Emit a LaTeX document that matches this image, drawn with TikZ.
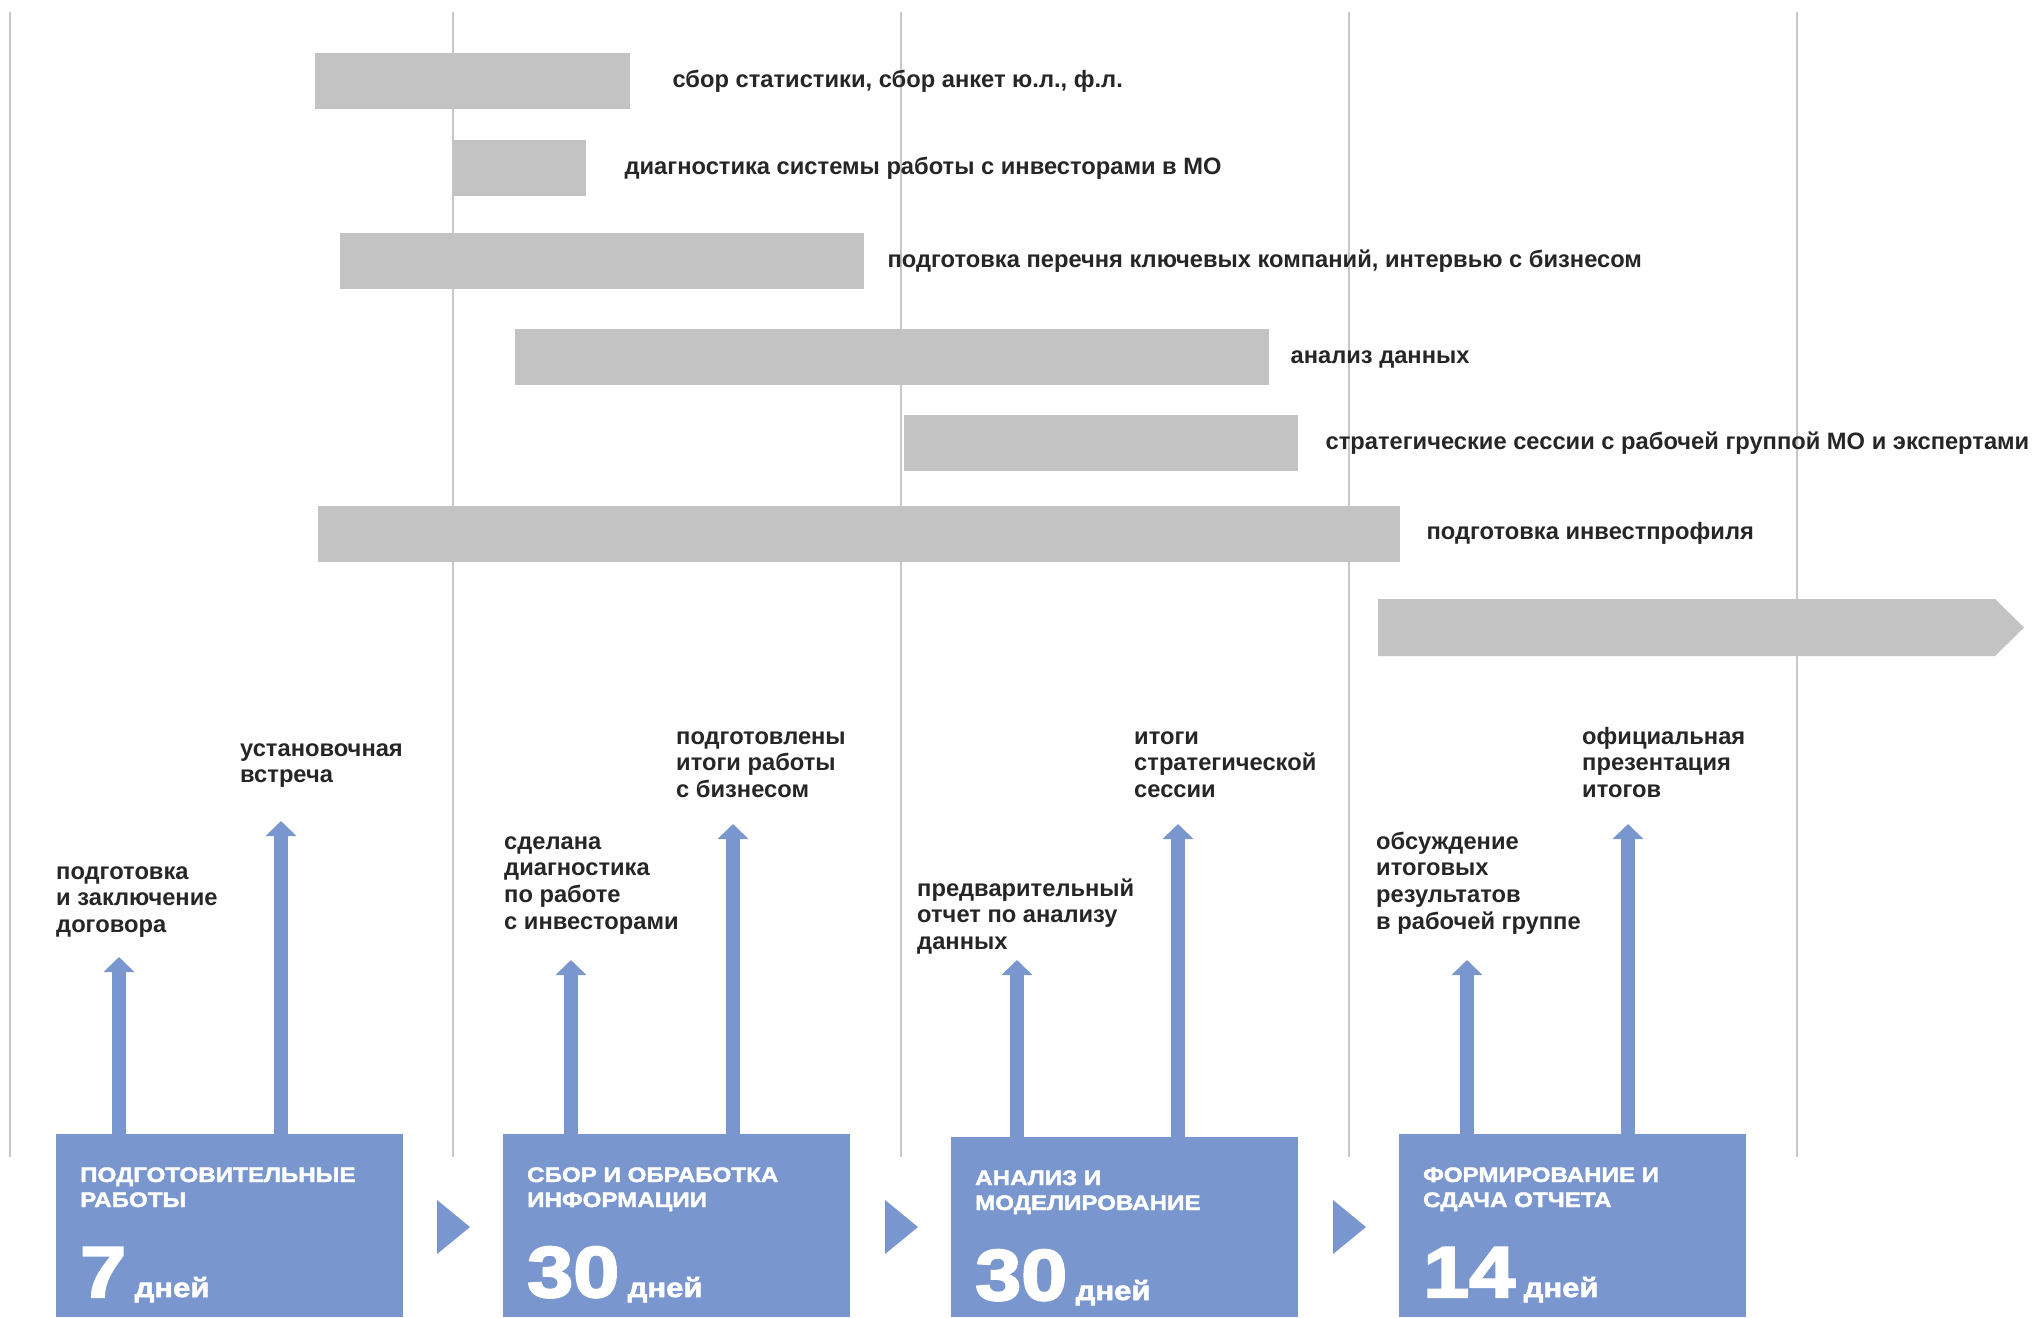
\documentclass[tikz,border=0pt]{standalone}
\usepackage{fontspec}
\setmainfont{Liberation Sans}
\newfontfamily\heavyfont{Liberation Sans Bold}[FakeBold=2,FakeStretch=1.15]
\usetikzlibrary{arrows.meta,calc}
\definecolor{barGray}{HTML}{C2C3C2}
\definecolor{gridGray}{HTML}{C8C8C8}
\definecolor{msBlue}{HTML}{7A96CF}
\definecolor{textDark}{HTML}{262626}
\begin{document}
\begin{tikzpicture}[x=1pt,y=-1pt,
	grid line/.style={draw=gridGray,line width=2pt},
	task bar/.style={fill=barGray,inner sep=0pt,minimum height=56pt,anchor=west},
	task text/.style={anchor=base west,inner sep=0pt,text=textDark,font=\bfseries\fontsize{23.7}{26.7}\selectfont},
	ms text/.style={task text,align=left},
	ms arrow/.style={draw=msBlue,line width=14pt,-{Triangle[width=30pt,length=15pt]}},
	phase box/.style={fill=msBlue,inner sep=0pt,anchor=north west,minimum width=347pt},
	phase title/.style={anchor=base west,inner sep=0pt,align=left,text=white,font=\heavyfont\fontsize{21}{25}\selectfont},
	phase days/.style={anchor=base west,inner sep=0pt,text=white,font=\heavyfont\addfontfeature{FakeBold=3}\fontsize{72}{72}\selectfont},
	phase unit/.style={anchor=base west,inner sep=0pt,text=white,font=\heavyfont\fontsize{27}{27}\selectfont}]
	\useasboundingbox (0,0) rectangle (2033,1317);
	
	% vertical grid
	\foreach \gx in {10,453,901,1349,1797}
		\draw[grid line] (\gx,12) -- (\gx,1157);
	
	% task bars
	\node[task bar,minimum width=315pt] (t1) at (315,81) {};
	\node[task bar,minimum width=133pt] (t2) at (453,168) {};
	\node[task bar,minimum width=524pt] (t3) at (340,261) {};
	\node[task bar,minimum width=754pt] (t4) at (515,357) {};
	\node[task bar,minimum width=394pt] (t5) at (904,443) {};
	\node[task bar,minimum width=1082pt] (t6) at (318,533.5) {};
	\fill[barGray] (1378,599) -- (1995,599) -- (2024,627.5) -- (1995,656) -- (1378,656) -- cycle;
	
	\node[task text] at ($(t1.east)+(42,6)$) {сбор статистики, сбор анкет ю.л., ф.л.};
	\node[task text] at ($(t2.east)+(38,6)$) {диагностика системы работы с инвесторами в МО};
	\node[task text] at ($(t3.east)+(23,6)$) {подготовка перечня ключевых компаний, интервью с бизнесом};
	\node[task text] at ($(t4.east)+(21,6)$) {анализ данных};
	\node[task text] at ($(t5.east)+(27,6)$) {стратегические сессии с рабочей группой МО и экспертами};
	\node[task text] at ($(t6.east)+(26,6)$) {подготовка инвестпрофиля};
	
	% milestone labels (placed at the baseline of their last line)
	\node[ms text] at (56,932.4) {подготовка\\и заключение\\договора};
	\node[ms text] at (240,782.7) {установочная\\встреча};
	\node[ms text] at (504,929.1) {сделана\\диагностика\\по работе\\с инвесторами};
	\node[ms text] at (676,797.4) {подготовлены\\итоги работы\\с бизнесом};
	\node[ms text] at (917,949.4) {предварительный\\отчет по анализу\\данных};
	\node[ms text] at (1134,797.4) {итоги\\стратегической\\сессии};
	\node[ms text] at (1376,929.1) {обсуждение\\итоговых\\результатов\\в рабочей группе};
	\node[ms text] at (1582,797.4) {официальная\\презентация\\итогов};
	
	% milestone tips
	\coordinate (m1) at (119,957);
	\coordinate (m2) at (281,821);
	\coordinate (m3) at (571,960);
	\coordinate (m4) at (733,824);
	\coordinate (m5) at (1017,960);
	\coordinate (m6) at (1178,824);
	\coordinate (m7) at (1467,960);
	\coordinate (m8) at (1628,824);
	
	% phases
	\node[phase box,minimum height=183pt] (p1) at (56,1134) {};
	\node[phase box,minimum height=183pt] (p2) at (503,1134) {};
	\node[phase box,minimum height=180pt] (p3) at (951,1137) {};
	\node[phase box,minimum height=183pt] (p4) at (1399,1134) {};
	
	\draw[ms arrow] (m1 |- p1.north) -- (m1);
	\draw[ms arrow] (m2 |- p1.north) -- (m2);
	\draw[ms arrow] (m3 |- p2.north) -- (m3);
	\draw[ms arrow] (m4 |- p2.north) -- (m4);
	\draw[ms arrow] (m5 |- p3.north) -- (m5);
	\draw[ms arrow] (m6 |- p3.north) -- (m6);
	\draw[ms arrow] (m7 |- p4.north) -- (m7);
	\draw[ms arrow] (m8 |- p4.north) -- (m8);
	
	\fill[msBlue] (437,1200) -- (470,1227) -- (437,1254) -- cycle;
	\fill[msBlue] (885,1200) -- (918,1227) -- (885,1254) -- cycle;
	\fill[msBlue] (1333,1200) -- (1366,1227) -- (1333,1254) -- cycle;
	
	\node[phase title] at ($(p1.north west)+(24,73)$) {ПОДГОТОВИТЕЛЬНЫЕ\\РАБОТЫ};
	\node[phase title] at ($(p2.north west)+(24,73)$) {СБОР И ОБРАБОТКА\\ИНФОРМАЦИИ};
	\node[phase title] at ($(p3.north west)+(24,73)$) {АНАЛИЗ И\\МОДЕЛИРОВАНИЕ};
	\node[phase title] at ($(p4.north west)+(24,73)$) {ФОРМИРОВАНИЕ И\\СДАЧА ОТЧЕТА};
	
	\node[phase days] (d1) at ($(p1.north west)+(24,163)$) {7};
	\node[phase days] (d2) at ($(p2.north west)+(24,163)$) {30};
	\node[phase days] (d3) at ($(p3.north west)+(24,163)$) {30};
	\node[phase days] (d4) at ($(p4.north west)+(24,163)$) {14};
	\foreach \d in {d1,d2,d3,d4}
		\node[phase unit] at ($(\d.base east)+(8,0)$) {дней};
\end{tikzpicture}
\end{document}
